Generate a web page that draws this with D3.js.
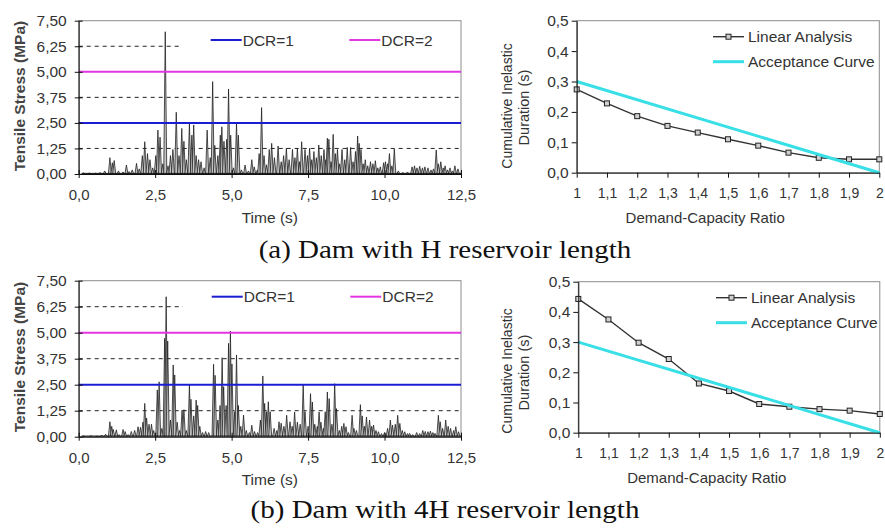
<!DOCTYPE html>
<html>
<head>
<meta charset="utf-8">
<script src="https://cdnjs.cloudflare.com/ajax/libs/d3/7.8.5/d3.min.js"></script>
<style>
  body { margin: 0; background: #fff; }
  text { font-family: Arial, "Liberation Sans", sans-serif; fill: #333; }
</style>
</head>
<body>
<div id="chart"></div>
<script>
// ---- stress peaks, (a) H reservoir ----
var timesA = [0.15, 0.35, 0.55, 0.70, 0.85, 1.02, 1.10, 1.16, 1.30, 1.45, 1.56, 1.65, 1.75, 1.89, 1.98,
  2.08, 2.16, 2.25, 2.33, 2.42, 2.52, 2.59, 2.66, 2.75, 2.83, 2.92, 3.00, 3.08, 3.19, 3.28, 3.37, 3.44,
  3.52, 3.62, 3.70, 3.76, 3.84, 3.92, 4.00, 4.10, 4.20, 4.30, 4.38, 4.45, 4.55, 4.63, 4.68, 4.75, 4.84,
  4.90, 4.97, 5.06, 5.16, 5.22, 5.32, 5.44, 5.55, 5.66, 5.74, 5.84, 5.90, 5.98, 6.06, 6.14, 6.23, 6.31,
  6.40, 6.52, 6.62, 6.70, 6.79, 6.88, 6.99, 7.07, 7.15, 7.22, 7.29, 7.40, 7.48, 7.55, 7.62, 7.69, 7.77,
  7.85, 7.93, 8.02, 8.08, 8.13, 8.18, 8.25, 8.32, 8.39, 8.46, 8.53, 8.61, 8.70, 8.78, 8.89, 8.97, 9.05,
  9.12, 9.17, 9.23, 9.30, 9.37, 9.45, 9.54, 9.62, 9.70, 9.78, 9.86, 9.97, 10.03, 10.10, 10.16, 10.24,
  10.32, 10.45, 10.60, 10.75, 10.90, 10.98, 11.06, 11.15, 11.24, 11.32, 11.42, 11.52, 11.60, 11.69,
  11.76, 11.84, 11.92, 11.98, 12.06, 12.14, 12.22, 12.30, 12.40];
var stressA = [0.06, 0.05, 0.04, 0.08, 0.15, 0.80, 0.55, 0.66, 0.15, 0.10, 0.44, 0.12, 0.20, 0.52, 0.25,
  0.90, 1.58, 1.00, 0.70, 0.30, 0.90, 2.15, 1.80, 0.50, 6.96, 0.40, 0.90, 1.20, 3.02, 0.90, 2.23, 1.60,
  0.70, 2.48, 1.90, 2.40, 0.90, 0.70, 0.60, 0.30, 2.15, 0.80, 4.52, 1.40, 0.90, 1.90, 2.31, 1.60, 1.70,
  4.16, 1.90, 0.30, 2.48, 1.90, 0.20, 0.44, 0.15, 0.70, 0.35, 0.20, 1.00, 3.25, 0.90, 0.45, 1.20, 1.50,
  0.80, 1.37, 0.60, 0.90, 1.26, 0.70, 1.20, 0.80, 1.26, 0.60, 1.58, 1.20, 0.90, 1.26, 0.70, 1.10, 0.80,
  1.42, 0.90, 1.20, 0.70, 1.75, 1.70, 0.60, 1.94, 1.00, 1.20, 0.50, 1.20, 0.70, 1.30, 1.30, 0.60, 1.10,
  1.86, 1.50, 1.20, 0.50, 0.70, 0.40, 0.60, 0.50, 0.65, 0.30, 0.35, 0.55, 0.60, 0.50, 1.00, 0.40,
  1.22, 0.15, 0.08, 0.10, 0.35, 0.40, 0.30, 0.38, 0.30, 0.35, 0.30, 0.20, 0.25, 1.17,
  0.50, 0.60, 0.30, 0.40, 0.20, 0.30, 0.15, 0.40, 0.25];

// ---- stress peaks, (b) 4H reservoir ----
var timesB = [0.15, 0.40, 0.60, 0.75, 0.88, 1.02, 1.08, 1.13, 1.23, 1.32, 1.45, 1.52, 1.62, 1.72, 1.83,
  1.94, 2.02, 2.10, 2.16, 2.22, 2.30, 2.38, 2.45, 2.57, 2.63, 2.72, 2.81, 2.86, 2.91, 3.00, 3.09, 3.14,
  3.22, 3.30, 3.38, 3.44, 3.52, 3.62, 3.67, 3.76, 3.84, 3.89, 3.96, 4.05, 4.15, 4.25, 4.41, 4.46, 4.55,
  4.62, 4.69, 4.74, 4.82, 4.90, 4.96, 5.01, 5.10, 5.16, 5.22, 5.30, 5.39, 5.48, 5.58, 5.66, 5.75, 5.85,
  5.94, 6.02, 6.08, 6.14, 6.20, 6.26, 6.39, 6.48, 6.55, 6.62, 6.71, 6.80, 6.91, 6.98, 7.06, 7.15, 7.24,
  7.34, 7.40, 7.50, 7.58, 7.64, 7.72, 7.80, 7.86, 7.92, 8.00, 8.06, 8.13, 8.19, 8.28, 8.37, 8.43, 8.52,
  8.60, 8.67, 8.74, 8.82, 8.94, 9.00, 9.08, 9.21, 9.27, 9.34, 9.41, 9.51, 9.58, 9.64, 9.72, 9.80, 9.90,
  10.00, 10.10, 10.19, 10.26, 10.35, 10.43, 10.50, 10.58, 10.66, 10.75, 10.82, 10.92, 11.05, 11.15,
  11.25, 11.33, 11.42, 11.50, 11.58, 11.65, 11.76, 11.82, 11.90, 12.00, 12.08, 12.16, 12.26, 12.33, 12.42];
var stressB = [0.04, 0.05, 0.03, 0.08, 0.12, 0.72, 0.50, 0.35, 0.33, 0.10, 0.35, 0.25, 0.10, 0.25, 0.30,
  0.48, 0.45, 0.70, 1.60, 0.90, 0.60, 0.60, 0.30, 2.25, 2.64, 0.40, 4.73, 6.73, 4.60, 0.80, 3.45, 2.97,
  0.70, 0.30, 1.28, 1.30, 0.30, 2.48, 1.80, 1.00, 1.76, 1.50, 0.50, 0.20, 0.25, 0.20, 3.48, 2.95, 0.80,
  1.50, 3.80, 2.40, 1.50, 4.49, 5.08, 3.50, 1.20, 3.93, 1.50, 0.50, 1.04, 0.30, 0.20, 0.55, 0.25, 0.20,
  0.80, 2.92, 1.60, 1.20, 1.68, 1.20, 0.40, 0.30, 0.72, 0.65, 0.50, 1.03, 0.72, 0.50, 1.19, 0.70, 0.60,
  2.50, 1.20, 0.50, 2.07, 1.67, 0.60, 0.50, 1.19, 0.70, 0.40, 1.20, 2.15, 1.83, 0.60, 2.55, 1.35, 0.30,
  0.50, 0.64, 0.48, 0.20, 1.03, 0.40, 0.30, 1.54, 1.00, 0.50, 0.95, 0.80, 0.50, 0.56, 0.30, 0.24, 0.15,
  0.20, 0.40, 0.80, 0.56, 0.60, 1.03, 0.64, 0.30, 0.24, 0.15, 0.16, 0.10, 0.20, 0.15,
  0.30, 0.25, 0.24, 0.27, 0.20, 0.16, 1.03, 0.72, 0.40, 0.80, 0.50, 0.40, 0.30, 0.48, 0.24];

var timeTicks = [0, 2.5, 5, 7.5, 10, 12.5];
var stressTicks = [0, 1.25, 2.5, 3.75, 5, 6.25, 7.5];
var gridLevels = [1.25, 3.75, 6.25];
var dcrNames = ["DCR=1", "DCR=2"];
var dcrLevels = [2.5, 5.0];
var dcrColors = ["#1c1cd2", "#e236e2"];

// ---- cumulative inelastic duration ----
var ratios = [1, 1.1, 1.2, 1.3, 1.4, 1.5, 1.6, 1.7, 1.8, 1.9, 2];
var linearA = [0.274, 0.228, 0.186, 0.154, 0.132, 0.110, 0.089, 0.066, 0.049, 0.044, 0.044];
var linearB = [0.443, 0.375, 0.298, 0.244, 0.163, 0.138, 0.095, 0.086, 0.078, 0.073, 0.062];
var acceptRatios = [1, 2];
var acceptDuration = [0.3, 0];
var durationTicks = [0, 0.1, 0.2, 0.3, 0.4, 0.5];
var seriesNames = ["Linear Analysis", "Acceptance Curve"];

var captions = ["(a) Dam with H reservoir length", "(b) Dam with 4H reservoir length"];

var svgWidth = 885;
var svgHeight = 529;

var svg = d3.select("#chart")
  .append("svg")
  .attr("width", svgWidth)
  .attr("height", svgHeight);

// decimal comma, like the original
var locale = d3.formatLocale({decimal: ",", thousands: ".", grouping: [3], currency: ["", ""]});
var fmt2 = locale.format(".2f");
var fmt1 = locale.format(".1f");
var fmtG = locale.format("~g");

function drawStress(p, times, stress) {
  var x = d3.scaleLinear().domain([0, 12.5]).range([p.left, p.right]);
  var y = d3.scaleLinear().domain([0, 7.5]).range([p.bottom, p.top]);
  var g = svg.append("g");

  // plot frame
  g.append("rect")
    .attr("x", p.left).attr("y", p.top)
    .attr("width", p.right - p.left).attr("height", p.bottom - p.top)
    .attr("fill", "none").attr("stroke", "#8c8c8c");

  // dashed grid lines
  g.selectAll(".grid")
    .data(gridLevels)
    .enter()
    .append("line")
    .attr("x1", p.left).attr("x2", p.right)
    .attr("y1", d => y(d)).attr("y2", d => y(d))
    .attr("stroke", "#222")
    .attr("stroke-dasharray", "4,4");

  // legend box background hides the upper grid line
  g.append("rect")
    .attr("x", p.legendX - 29).attr("y", y(7.1))
    .attr("width", p.right - p.legendX + 28).attr("height", y(5.6) - y(7.1))
    .attr("fill", "#fff");

  // stress spikes
  var halfWidth = 0.05;
  var spike = d3.line().x(d => x(d[0])).y(d => y(d[1]));
  g.selectAll(".spike")
    .data(times)
    .enter()
    .append("path")
    .attr("d", (t, i) => spike([[t - halfWidth, 0], [t, stress[i]], [t + halfWidth, 0]]))
    .attr("fill", "#c4c4c4")
    .attr("stroke", "#1a1a1a")
    .attr("stroke-width", 0.75);

  // noisy base line
  g.append("line")
    .attr("x1", x(0.1)).attr("x2", x(12.5))
    .attr("y1", y(0.03)).attr("y2", y(0.03))
    .attr("stroke", "#111").attr("stroke-width", 1);

  // DCR limit lines
  g.selectAll(".dcr")
    .data(dcrLevels)
    .enter()
    .append("line")
    .attr("x1", p.left).attr("x2", p.right)
    .attr("y1", d => y(d)).attr("y2", d => y(d))
    .attr("stroke", (d, i) => dcrColors[i])
    .attr("stroke-width", 2);

  // legend
  var legX = [p.legendX, p.legendX + 138.6];
  dcrNames.forEach(function(name, i) {
    g.append("line")
      .attr("x1", legX[i]).attr("x2", legX[i] + 31)
      .attr("y1", p.legendY).attr("y2", p.legendY)
      .attr("stroke", dcrColors[i]).attr("stroke-width", 2);
    g.append("text")
      .attr("x", legX[i] + 32).attr("y", p.legendY)
      .attr("dy", "0.36em")
      .attr("font-size", 15.5)
      .text(name);
  });

  // axes
  var xAxis = g.append("g")
    .attr("transform", `translate(0, ${p.bottom})`)
    .call(d3.axisBottom(x).tickValues(timeTicks).tickSize(4).tickSizeOuter(0).tickFormat(fmt1));
  xAxis.attr("font-size", 15);
  xAxis.selectAll(".tick line").attr("y1", -4).attr("stroke", "#111");
  xAxis.selectAll(".tick text").attr("y", 26).attr("dy", 0);
  xAxis.select(".domain").attr("stroke", "#111");

  var yAxis = g.append("g")
    .attr("transform", `translate(${p.left}, 0)`)
    .call(d3.axisLeft(y).tickValues(stressTicks).tickSize(4).tickSizeOuter(0).tickFormat(fmt2));
  yAxis.attr("font-size", 15.5);
  yAxis.selectAll(".tick line").attr("x1", 4).attr("stroke", "#111");
  yAxis.selectAll(".tick text").attr("x", -12);
  yAxis.select(".domain").attr("stroke", "#111");

  g.append("text")
    .attr("x", (p.left + p.right) / 2)
    .attr("y", p.bottom + 48.5)
    .attr("text-anchor", "middle")
    .attr("font-size", 15.5)
    .text("Time (s)");

  g.append("text")
    .attr("transform", `translate(24.5, ${p.labelY}) rotate(-90)`)
    .attr("text-anchor", "middle")
    .attr("font-size", 15.5)
    .attr("font-weight", "bold")
    .style("fill", "#444")
    .text("Tensile Stress (MPa)");
}

function drawDuration(p, linear) {
  var x = d3.scaleLinear().domain([1, 2]).range([p.left, p.right]);
  var y = d3.scaleLinear().domain([0, 0.5]).range([p.bottom, p.top]);
  var g = svg.append("g");

  g.append("rect")
    .attr("x", p.left).attr("y", p.top)
    .attr("width", p.right - p.left).attr("height", p.bottom - p.top)
    .attr("fill", "none").attr("stroke", "#8c8c8c");

  // linear analysis line with square markers
  var line = d3.line().x((d, i) => x(ratios[i])).y(d => y(d));
  g.append("path")
    .attr("d", line(linear))
    .attr("fill", "none")
    .attr("stroke", "#333")
    .attr("stroke-width", 1.4);

  g.selectAll(".marker")
    .data(linear)
    .enter()
    .append("rect")
    .attr("x", (d, i) => x(ratios[i]) - 2.5)
    .attr("y", d => y(d) - 2.5)
    .attr("width", 5).attr("height", 5)
    .attr("fill", "#d0d0d0")
    .attr("stroke", "#222")
    .attr("stroke-width", 1);

  // acceptance curve
  var accept = d3.line().x((d, i) => x(acceptRatios[i])).y(d => y(d));
  g.append("path")
    .attr("d", accept(acceptDuration))
    .attr("fill", "none")
    .attr("stroke", "#38dfe6")
    .attr("stroke-width", 3);

  // axes
  var xAxis = g.append("g")
    .attr("transform", `translate(0, ${p.bottom})`)
    .call(d3.axisBottom(x).tickValues(ratios).tickSize(5).tickSizeOuter(0).tickFormat(fmtG));
  xAxis.attr("font-size", 14);
  xAxis.selectAll(".tick line").attr("stroke", "#111");
  xAxis.selectAll(".tick text").attr("y", 25.5).attr("dy", 0);
  xAxis.select(".domain").attr("stroke", "#111");

  var yAxis = g.append("g")
    .attr("transform", `translate(${p.left}, 0)`)
    .call(d3.axisLeft(y).tickValues(durationTicks).tickSize(5).tickSizeOuter(0).tickFormat(fmt1));
  yAxis.attr("font-size", 15.5);
  yAxis.selectAll(".tick line").attr("stroke", "#111");
  yAxis.selectAll(".tick text").attr("x", -8);
  yAxis.select(".domain").attr("stroke", "#111");

  g.append("text")
    .attr("x", p.left + 128.5)
    .attr("y", p.bottom + 50.5)
    .attr("text-anchor", "middle")
    .attr("font-size", 15)
    .text("Demand-Capacity Ratio");

  g.append("text")
    .attr("transform", `translate(512, ${p.labelY}) rotate(-90)`)
    .attr("text-anchor", "middle")
    .attr("font-size", 14)
    .text("Cumulative Inelastic");
  g.append("text")
    .attr("transform", `translate(529, ${p.labelY + 1.5}) rotate(-90)`)
    .attr("text-anchor", "middle")
    .attr("font-size", 14.5)
    .text("Duration (s)");

  // legend
  g.append("line")
    .attr("x1", p.legendX).attr("x2", p.legendX + 31)
    .attr("y1", p.legendY).attr("y2", p.legendY)
    .attr("stroke", "#333").attr("stroke-width", 1.4);
  g.append("rect")
    .attr("x", p.legendX + 13).attr("y", p.legendY - 2.5)
    .attr("width", 5).attr("height", 5)
    .attr("fill", "#d0d0d0").attr("stroke", "#222");
  g.append("line")
    .attr("x1", p.legendX).attr("x2", p.legendX + 31)
    .attr("y1", p.legendY + 25).attr("y2", p.legendY + 25)
    .attr("stroke", "#38dfe6").attr("stroke-width", 3);
  seriesNames.forEach(function(name, i) {
    g.append("text")
      .attr("x", p.legendX + 35).attr("y", p.legendY + i * 25)
      .attr("dy", "0.36em")
      .attr("font-size", 15.5)
      .text(name);
  });
}

drawStress({left: 78.7, right: 461, top: 20.7, bottom: 174, legendX: 210.7, legendY: 40, labelY: 96}, timesA, stressA);
drawStress({left: 78.7, right: 461, top: 280.7, bottom: 436.7, legendX: 211.7, legendY: 296.7, labelY: 357}, timesB, stressB);
drawDuration({left: 576.7, right: 879.3, top: 20.7, bottom: 172.7, legendX: 713, legendY: 36.7, labelY: 106}, linearA);
drawDuration({left: 578.3, right: 879.8, top: 281.7, bottom: 432.7, legendX: 716, legendY: 297.7, labelY: 371}, linearB);

// captions
var captionY = [258, 518];
captions.forEach(function(c, i) {
  svg.append("text")
    .attr("transform", `translate(445, ${captionY[i]}) scale(1.16, 1)`)
    .attr("text-anchor", "middle")
    .style("font-family", "'Liberation Serif', 'Times New Roman', serif")
    .style("fill", "#111")
    .attr("font-size", 25)
    .text(c);
});
</script>
</body>
</html>
